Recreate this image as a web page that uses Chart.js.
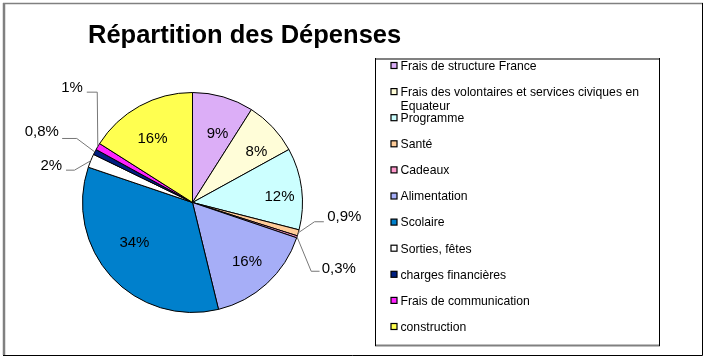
<!DOCTYPE html>
<html><head><meta charset="utf-8">
<script src="https://cdn.jsdelivr.net/npm/chart.js@4/dist/chart.umd.min.js"></script>
<style>html,body{margin:0;padding:0;background:#fff;} #wrap{width:707px;height:360px;position:relative;}</style>
</head><body><div id="wrap"><canvas id="c" width="707" height="360"></canvas></div>
<script>
const titleText = "Répartition des Dépenses";
const categories = [
  "Frais de structure France",
  "Frais des volontaires et services civiques en Equateur",
  "Programme",
  "Santé",
  "Cadeaux",
  "Alimentation",
  "Scolaire",
  "Sorties, fêtes",
  "charges financières",
  "Frais de communication",
  "construction"
];
const values = [9, 8, 12, 0.9, 0.3, 16, 34, 2, 0.8, 1, 16];
const valueLabels = ["9%", "8%", "12%", "0,9%", "0,3%", "16%", "34%", "2%", "0,8%", "1%", "16%"];
const colors = ["#DCAEF7", "#FFFDD8", "#CCFFFF", "#FFCC99", "#FF99CC", "#A6AEF7", "#0080CC", "#FFFFFF", "#001F80", "#FF22FF", "#FFFF50"];

// label layout (relative to pie centre, in units of radius)
const insideLabelPos = {0:[0.667,3.7],1:[0.744,4.6],2:[0.793,3.2],5:[0.734,0],6:[0.641,7.9],10:[0.686,-3.2]};
const outsideLabelPos = {
  3:{elbow:[1.109,0.175], end:[1.194,0.175], text:[1.225,0.127], align:'left'},
  4:{elbow:[1.079,0.625], end:[1.155,0.625], text:[1.175,0.600], align:'left'},
  7:{elbow:[-1.073,-0.294], end:[-1.15,-0.294], text:[-1.185,-0.336], align:'right'},
  8:{elbow:[-1.052,-0.582], end:[-1.185,-0.582], text:[-1.215,-0.639], align:'right'},
  9:{elbow:[-0.866,-1.003], end:[-0.961,-1.003], text:[-0.997,-1.045], align:'right'}
};
const FONT = "'Liberation Sans', Arial, Helvetica, sans-serif";

const decor = {
  id: 'decor',
  afterDraw(chart) {
    const ctx = chart.ctx;
    ctx.save();
    // outer frame
    ctx.lineWidth = 1.5; ctx.strokeStyle = '#808080';
    ctx.beginPath(); ctx.moveTo(3, 3.5); ctx.lineTo(703, 3.5); ctx.stroke();
    ctx.lineWidth = 2.5;
    ctx.beginPath(); ctx.moveTo(4, 3); ctx.lineTo(4, 355); ctx.stroke();
    ctx.lineWidth = 1; ctx.strokeStyle = '#000';
    ctx.beginPath(); ctx.moveTo(702.5, 3); ctx.lineTo(702.5, 355.5); ctx.lineTo(3, 355.5); ctx.stroke();

    // title
    ctx.fillStyle = '#000';
    ctx.font = "bold 25.5px " + FONT;
    ctx.textAlign = 'left'; ctx.textBaseline = 'alphabetic';
    ctx.fillText(titleText, 88, 43);

    // legend box
    ctx.lineWidth = 2; ctx.strokeStyle = '#808080';
    ctx.beginPath(); ctx.moveTo(375, 59); ctx.lineTo(660, 59); ctx.stroke();
    ctx.beginPath(); ctx.moveTo(375, 345.5); ctx.lineTo(660, 345.5); ctx.stroke();
    ctx.lineWidth = 1; ctx.strokeStyle = '#000';
    ctx.beginPath(); ctx.moveTo(375.5, 58); ctx.lineTo(375.5, 346); ctx.stroke();
    ctx.beginPath(); ctx.moveTo(659.5, 58); ctx.lineTo(659.5, 346); ctx.stroke();

    // legend items
    ctx.font = "12.2px " + FONT;
    ctx.textBaseline = 'middle';
    const maxW = 252;
    categories.forEach((cat, i) => {
      const y = 66.5 + i * 26.1;
      ctx.fillStyle = colors[i];
      ctx.fillRect(391, y - 4, 6, 6);
      ctx.strokeStyle = '#000'; ctx.lineWidth = 1.2;
      ctx.strokeRect(391, y - 4, 6, 6);
      // wrap
      const words = cat.split(' ');
      const lines = []; let cur = '';
      words.forEach(w => {
        const t = cur ? cur + ' ' + w : w;
        if (ctx.measureText(t).width > maxW && cur) { lines.push(cur); cur = w; } else cur = t;
      });
      lines.push(cur);
      ctx.fillStyle = '#000';
      lines.forEach((ln, k) => ctx.fillText(ln, 400.5, y + k * 14));
    });

    // data labels
    const meta = chart.getDatasetMeta(0);
    ctx.font = "15px " + FONT;
    meta.data.forEach((arc, i) => {
      const p = arc.getProps(['x', 'y', 'startAngle', 'endAngle', 'outerRadius'], true);
      const r = p.outerRadius, mid = (p.startAngle + p.endAngle) / 2;
      if (insideLabelPos[i]) {
        const [f, d] = insideLabelPos[i];
        const a = mid + d * Math.PI / 180;
        ctx.textAlign = 'center'; ctx.fillStyle = '#000';
        ctx.fillText(valueLabels[i], p.x + Math.cos(a) * f * r, p.y + Math.sin(a) * f * r);
      } else if (outsideLabelPos[i]) {
        const o = outsideLabelPos[i];
        const sx = p.x + Math.cos(mid) * r, sy = p.y + Math.sin(mid) * r;
        ctx.strokeStyle = '#777'; ctx.lineWidth = 1;
        ctx.beginPath();
        ctx.moveTo(sx, sy);
        ctx.lineTo(p.x + o.elbow[0] * r, p.y + o.elbow[1] * r);
        ctx.lineTo(p.x + o.end[0] * r, p.y + o.end[1] * r);
        ctx.stroke();
        ctx.textAlign = o.align; ctx.fillStyle = '#000';
        ctx.fillText(valueLabels[i], p.x + o.text[0] * r, p.y + o.text[1] * r);
      }
    });
    ctx.restore();
  }
};

new Chart(document.getElementById('c'), {
  type: 'pie',
  data: {
    labels: categories,
    datasets: [{ data: values, backgroundColor: colors, borderColor: '#000', borderWidth: 1 }]
  },
  options: {
    responsive: false,
    animation: false,
    layout: { padding: { left: 82, top: 92, right: 404, bottom: 47 } },
    plugins: { legend: { display: false }, tooltip: { enabled: false }, title: { display: false } }
  },
  plugins: [decor]
});
</script>
</body></html>
